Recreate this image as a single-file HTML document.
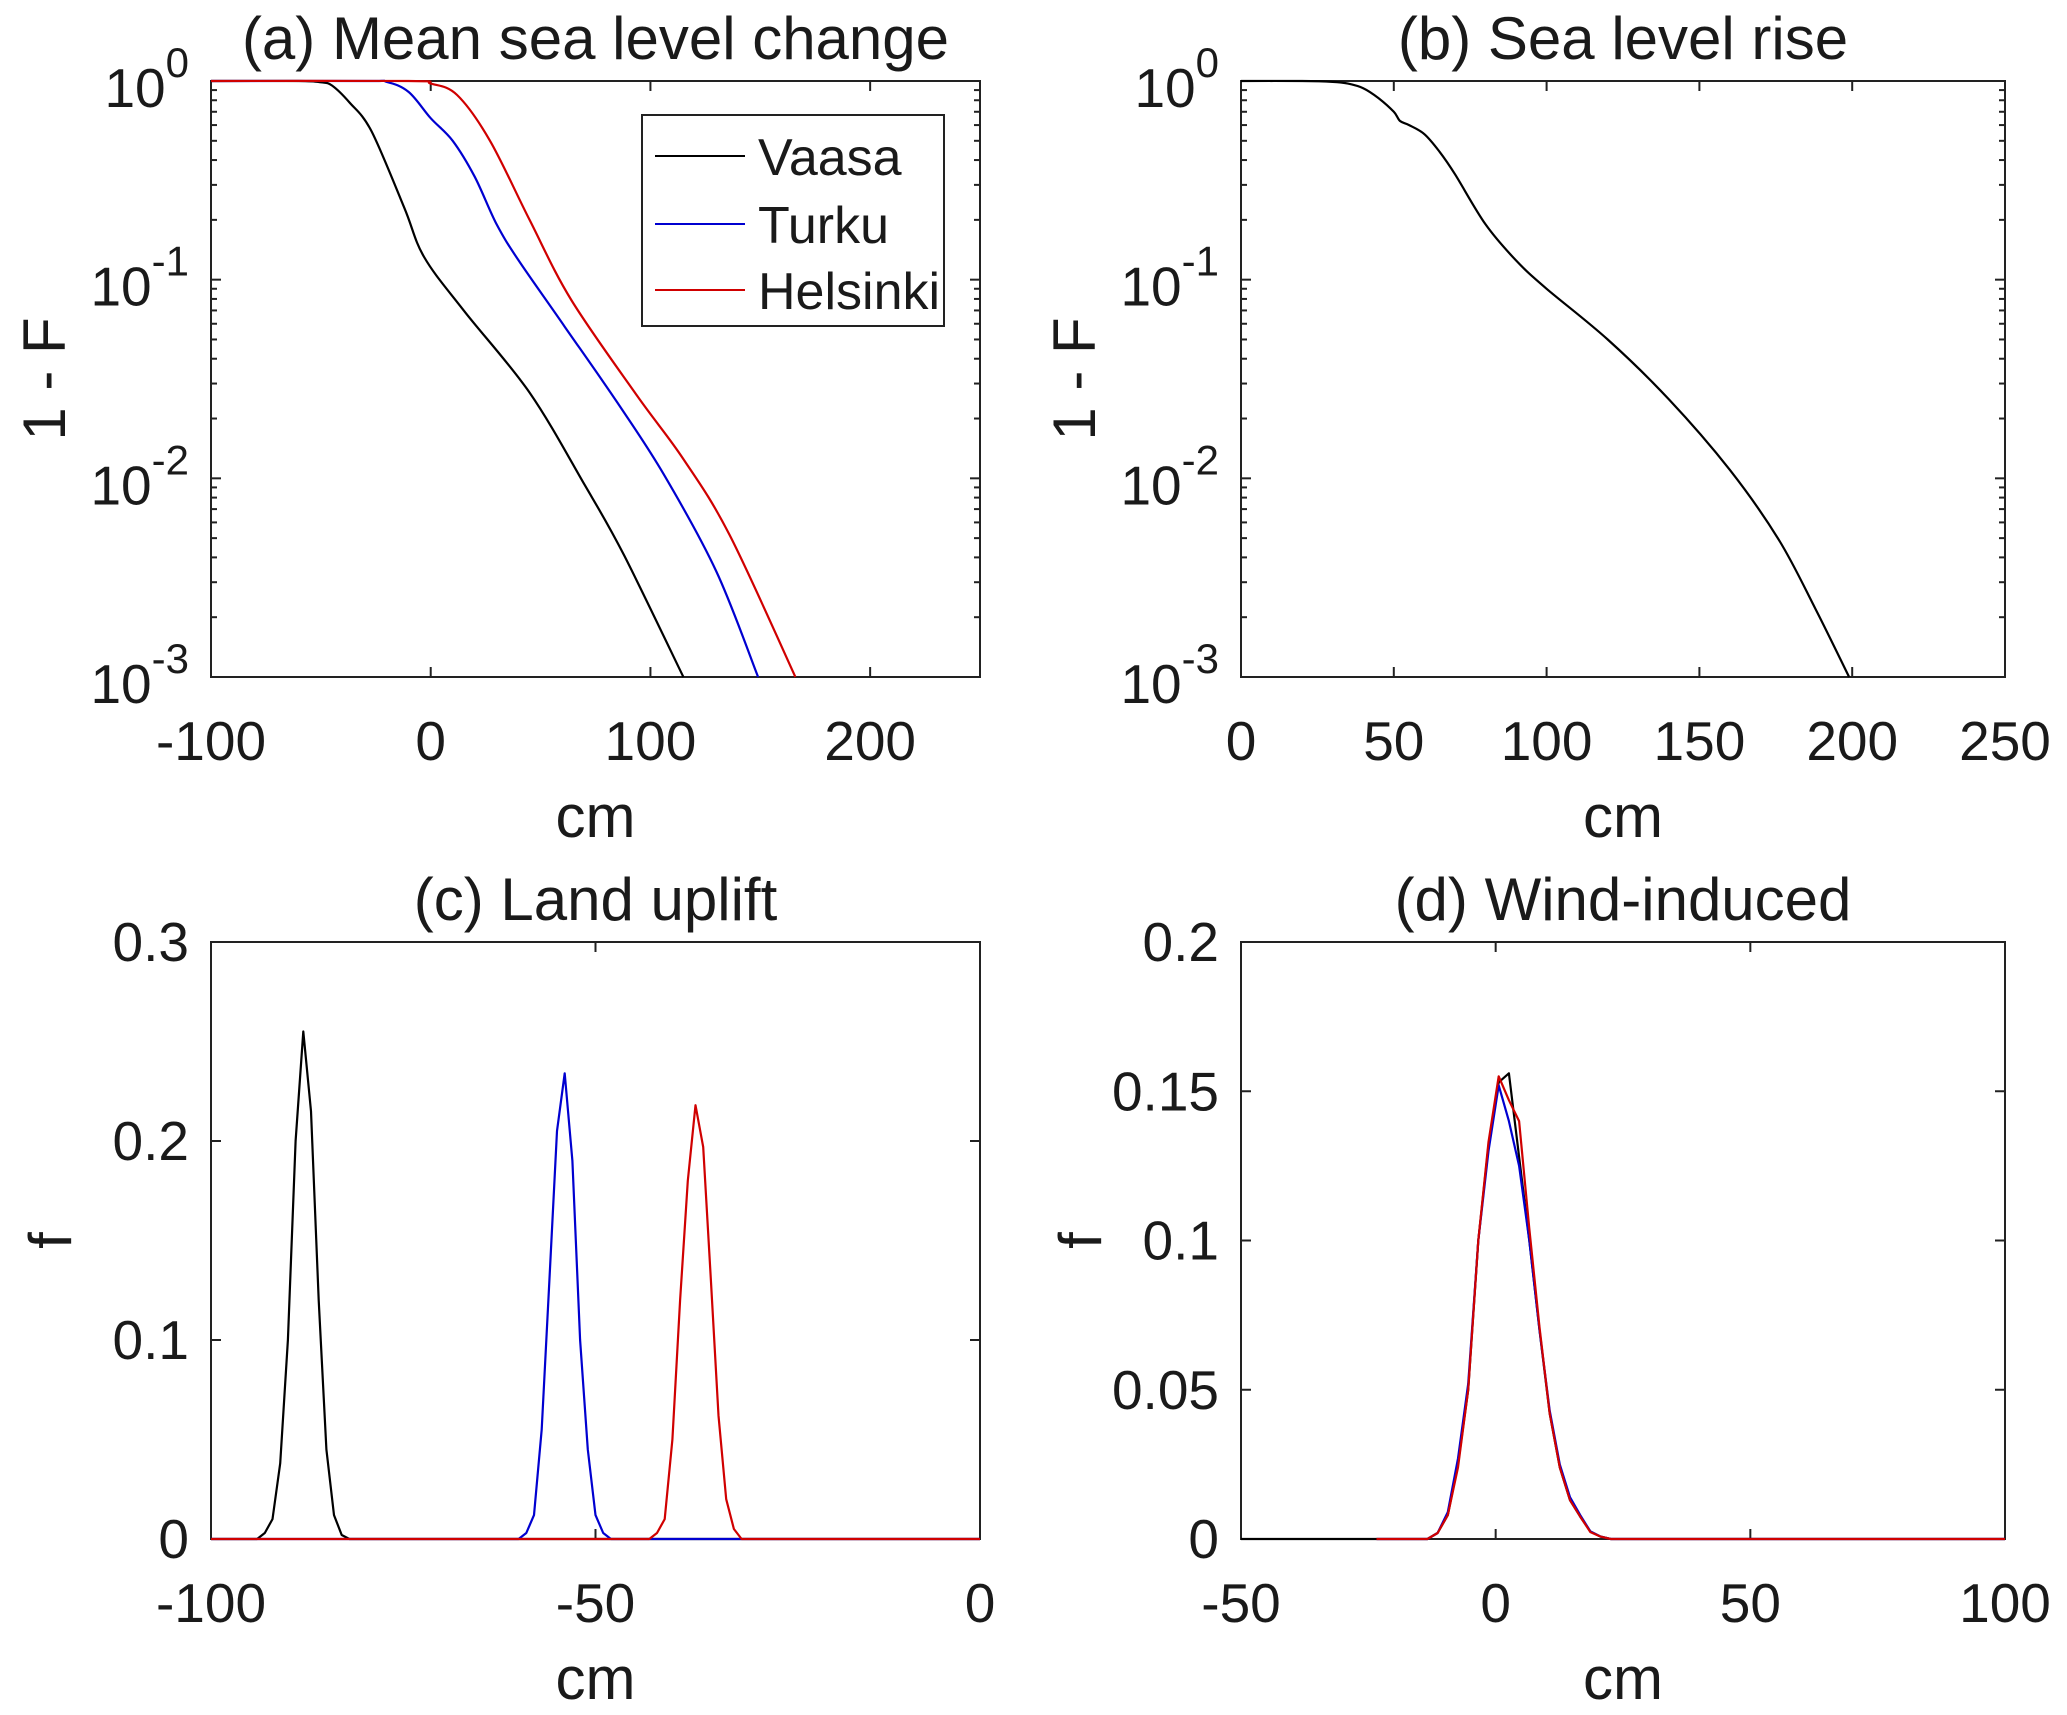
<!DOCTYPE html>
<html><head><meta charset="utf-8"><style>
html,body{margin:0;padding:0;background:#fff}
svg text{font-family:"Liberation Sans",sans-serif;fill:#1a1a1a}
</style></head><body>
<svg id="fig" width="2067" height="1710" viewBox="0 0 2067 1710" xmlns="http://www.w3.org/2000/svg"></svg>
<script>
// ---- data ----
const aVaasaX=[-100,-60,-50,-45,-37,-27,-12,-3,15,45,70,88,115];
const aVaasaY=[1,1,0.985,0.95,0.78,0.56,0.23,0.13,0.07,0.027,0.0093,0.0041,0.001];
const aTurkuX=[-100,-30,-20,-10,0,10,20,30,40,61,85,106,130,149];
const aTurkuY=[1,1,0.99,0.88,0.65,0.5,0.33,0.19,0.125,0.058,0.024,0.0105,0.0034,0.001];
const aHelsX=[-100,-10,0,12,27,45,64,94,115,136,166];
const aHelsY=[1,1,0.97,0.85,0.5,0.2,0.079,0.026,0.0125,0.0052,0.001];
const bX=[0,20,30,35,40,45,50,52,55,60,65,70,80,90,100,120,140,160,176,188,199];
const bY=[1,1,0.99,0.97,0.92,0.82,0.7,0.63,0.6,0.54,0.44,0.34,0.19,0.125,0.09,0.05,0.025,0.011,0.0049,0.0022,0.001];
const cVaasaX=[-100,-94,-93,-92,-91,-90,-89,-88,-87,-86,-85,-84,-83,-82,0];
const cVaasaY=[0,0,0.003,0.01,0.038,0.1,0.2,0.255,0.215,0.12,0.045,0.012,0.002,0,0];
const cTurkuX=[-100,-60,-59,-58,-57,-56,-55,-54,-53,-52,-51,-50,-49,-48,0];
const cTurkuY=[0,0,0.003,0.012,0.055,0.13,0.205,0.234,0.19,0.1,0.045,0.012,0.003,0,0];
const cHelsX=[-100,-43,-42,-41,-40,-39,-38,-37,-36,-35,-34,-33,-32,-31,0];
const cHelsY=[0,0,0.003,0.01,0.05,0.12,0.18,0.218,0.197,0.13,0.062,0.02,0.005,0,0];
const dX=[-13.4,-11.4,-9.4,-7.4,-5.4,-3.4,-1.4,0.6,2.6,4.6,6.6,8.6,10.6,12.6,14.6,16.6,18.6,20.6,22.6];
const dVaasa=[0,0.002,0.008,0.025,0.05,0.1,0.132,0.153,0.156,0.128,0.1,0.07,0.042,0.024,0.013,0.0075,0.0025,0.0008,0];
const dTurku=[0,0.002,0.009,0.027,0.052,0.1,0.13,0.152,0.14,0.125,0.1,0.07,0.043,0.025,0.014,0.008,0.0025,0.0008,0];
const dHels=[0,0.002,0.008,0.024,0.05,0.1,0.133,0.155,0.147,0.14,0.104,0.071,0.042,0.024,0.013,0.0075,0.0023,0.0008,0];
const colBlack='#000', colBlue='#0000d0', colRed='#d00000';

const NS='http://www.w3.org/2000/svg';
const svg=document.getElementById('fig');
function mk(tag,attrs,parent){const e=document.createElementNS(NS,tag);for(const k in attrs)e.setAttribute(k,attrs[k]);(parent||svg).appendChild(e);return e;}

function panel(id,box,xd,yd,logY,xticks,yticks,title,ylabel){
  const g=mk('g',{});
  
  
  const [L,R,T,B]=box;
  const sx=v=>L+(v-xd[0])/(xd[1]-xd[0])*(R-L);
  const sy=logY?(v=>B-(Math.log10(v)-yd[0])/(yd[1]-yd[0])*(B-T)):(v=>B-(v-yd[0])/(yd[1]-yd[0])*(B-T));
  xticks.forEach(t=>{const x=sx(t);
    mk('line',{x1:x,x2:x,y1:B,y2:B-10,stroke:'#222','stroke-width':2},g);
    mk('line',{x1:x,x2:x,y1:T,y2:T+10,stroke:'#222','stroke-width':2},g);
    const tx=mk('text',{x:x,y:B+83,'font-size':55,'text-anchor':'middle'},g);tx.textContent=String(t);
    
    
  });
  yticks.forEach(t=>{const y=logY?sy(Math.pow(10,t)):sy(t);
    mk('line',{x1:L,x2:L+10,y1:y,y2:y,stroke:'#222','stroke-width':2},g);
    mk('line',{x1:R,x2:R-10,y1:y,y2:y,stroke:'#222','stroke-width':2},g);
    const tx=mk('text',{x:L-22,y:y+19,'font-size':55,'text-anchor':'end'},g);
    
    
    if(logY){tx.textContent='10';
      tx.setAttribute('y',y+26);
      const s=mk('tspan',{dy:-30,'font-size':42},tx);s.textContent=String(t);
      tx.setAttribute('x',L-22);}
    else tx.textContent=String(t);
  });
  if(logY){for(let d=yd[0];d<yd[1];d++)for(let m=2;m<10;m++){const y=sy(m*Math.pow(10,d));
    mk('line',{x1:L,x2:L+6,y1:y,y2:y,stroke:'#222','stroke-width':2},g);
    mk('line',{x1:R,x2:R-6,y1:y,y2:y,stroke:'#222','stroke-width':2},g);}}
  const frame=mk('rect',{x:L,y:T,width:R-L,height:B-T,fill:'none',stroke:'#222','stroke-width':2},g);
  
  
  const tt=mk('text',{x:(L+R)/2,y:T-22,'font-size':60,'text-anchor':'middle'},g);tt.textContent=title;
  
  
  const xl=mk('text',{x:(L+R)/2,y:B+160,'font-size':60,'text-anchor':'middle'},g);xl.textContent='cm';
  
  
  const yx=L-(ylabel==='f'?140:146);
  const yl=mk('text',{x:yx,y:(T+B)/2,'font-size':60,'text-anchor':'middle',transform:`rotate(-90 ${yx} ${(T+B)/2})`},g);yl.textContent=ylabel;
  
  
  return {g,sx,sy};
}
function series(p,xs,ys,color,name,smooth){
  const P=xs.map((x,i)=>[p.sx(x),p.sy(ys[i])]);
  let d='M'+P[0][0].toFixed(1)+','+P[0][1].toFixed(1);
  for(let i=0;i<P.length-1;i++){
    if(!smooth){d+=' L'+P[i+1][0].toFixed(1)+','+P[i+1][1].toFixed(1);continue;}
    const p0=P[Math.max(i-1,0)],p1=P[i],p2=P[i+1],p3=P[Math.min(i+2,P.length-1)];
    const c1=[p1[0]+(p2[0]-p0[0])/6,p1[1]+(p2[1]-p0[1])/6];
    const c2=[p2[0]-(p3[0]-p1[0])/6,p2[1]-(p3[1]-p1[1])/6];
    d+=` C${c1[0].toFixed(1)},${c1[1].toFixed(1)} ${c2[0].toFixed(1)},${c2[1].toFixed(1)} ${p2[0].toFixed(1)},${p2[1].toFixed(1)}`;
  }
  const pl=mk('path',{d:d,fill:'none',stroke:color,'stroke-width':2.2,'stroke-linejoin':'round'},p.g);
  
  
}
const A=panel('a',[211,980,81,677],[-100,250],[-3,0],true,[-100,0,100,200],[0,-1,-2,-3],'(a) Mean sea level change','1 - F');
series(A,aVaasaX,aVaasaY,colBlack,'line-vaasa',true);
series(A,aTurkuX,aTurkuY,colBlue,'line-turku',true);
series(A,aHelsX,aHelsY,colRed,'line-helsinki',true);
const Bp=panel('b',[1241,2005,81,677],[0,250],[-3,0],true,[0,50,100,150,200,250],[0,-1,-2,-3],'(b) Sea level rise','1 - F');
series(Bp,bX,bY,colBlack,'line-sea-level-rise',true);
const C=panel('c',[211,980,942,1539],[-100,0],[0,0.3],false,[-100,-50,0],[0,0.1,0.2,0.3],'(c) Land uplift','f');
series(C,cVaasaX,cVaasaY,colBlack,'line-vaasa',false);
series(C,cTurkuX,cTurkuY,colBlue,'line-turku',false);
series(C,cHelsX,cHelsY,colRed,'line-helsinki',false);
const D=panel('d',[1241,2005,942,1539],[-50,100],[0,0.2],false,[-50,0,50,100],[0,0.05,0.1,0.15,0.2],'(d) Wind-induced','f');
series(D,[-50].concat(dX,[100]),[0].concat(dVaasa,[0]),colBlack,'line-vaasa',false);
series(D,[-23.4].concat(dX,[100]),[0].concat(dTurku,[0]),colBlue,'line-turku',false);
series(D,[-23.4].concat(dX,[100]),[0].concat(dHels,[0]),colRed,'line-helsinki',false);
// legend
const lg=mk('g',{});


mk('rect',{x:642,y:115,width:302,height:211,fill:'#fff',stroke:'#222','stroke-width':2},lg);
[['Vaasa',colBlack,156],['Turku',colBlue,224],['Helsinki',colRed,290]].forEach(e=>{
  const eg=mk('g',{},lg);
  
  
  mk('line',{x1:655,x2:745,y1:e[2],y2:e[2],stroke:e[1],'stroke-width':2},eg);
  const t=mk('text',{x:758,y:e[2]+19,'font-size':52},eg);t.textContent=e[0];
});
</script>
</body></html>
